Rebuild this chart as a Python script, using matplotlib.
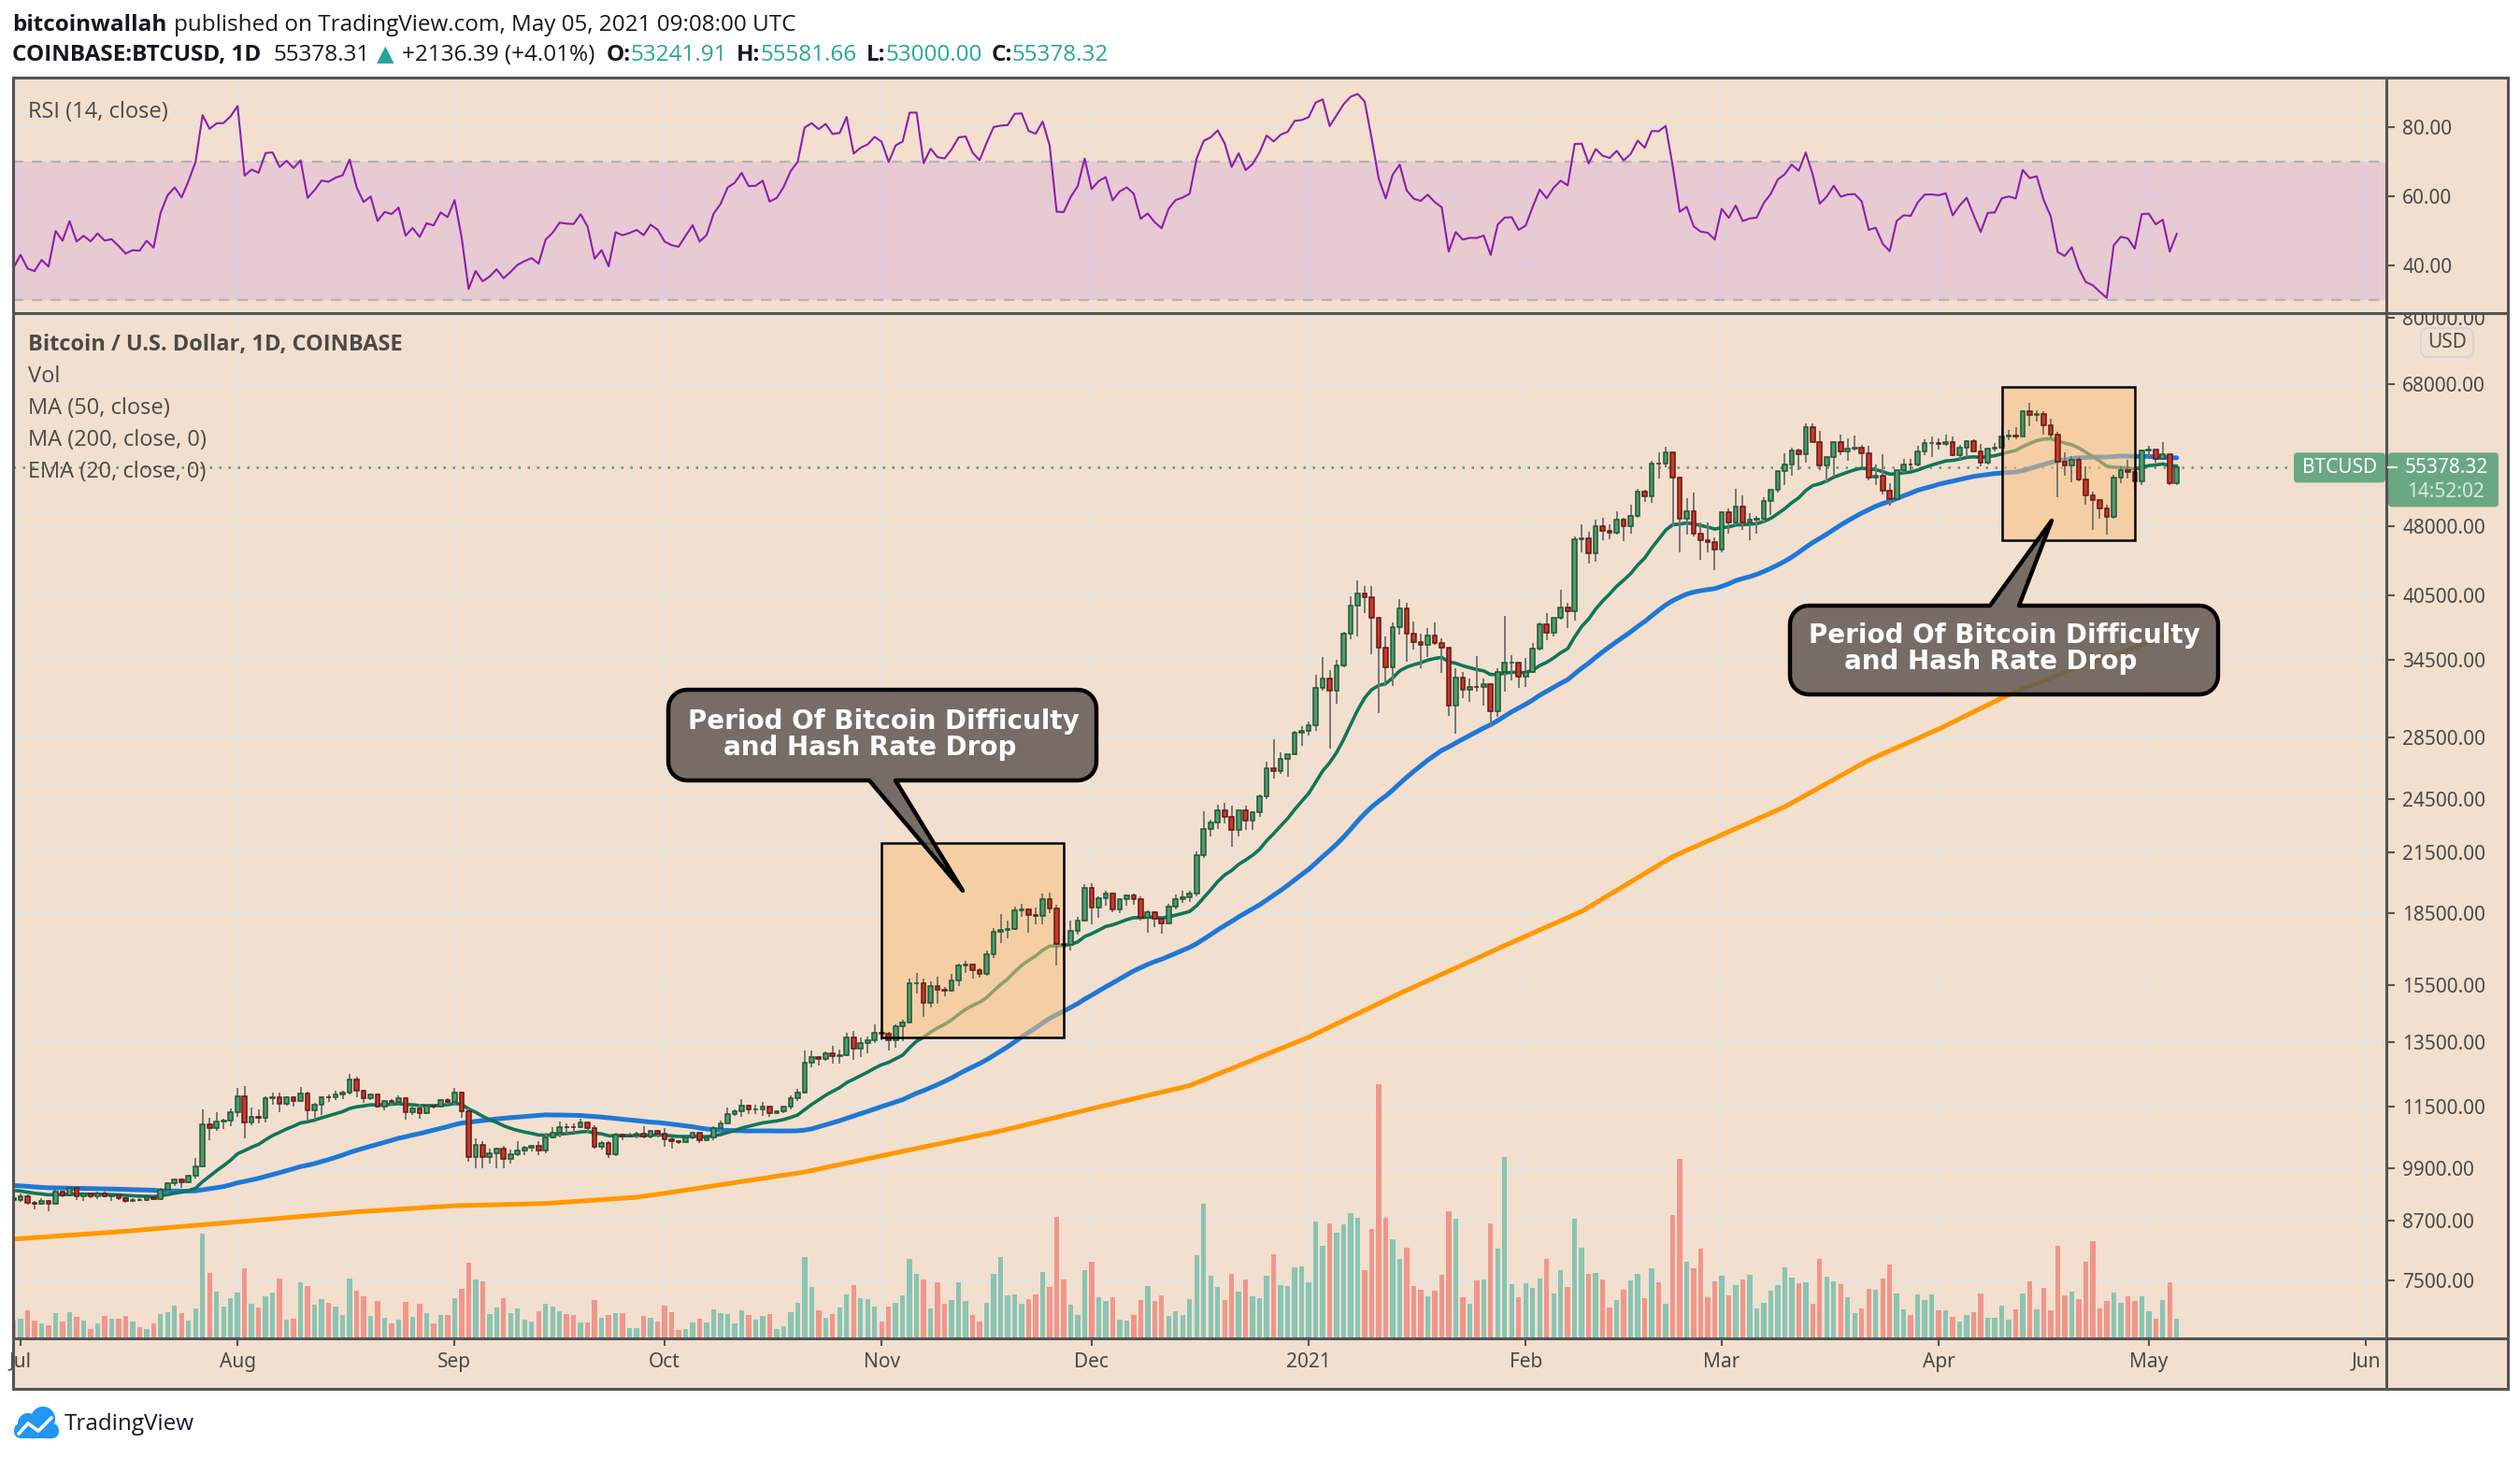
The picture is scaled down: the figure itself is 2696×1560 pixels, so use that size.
import numpy as np
import pandas as pd
import matplotlib
matplotlib.use("Agg")
import matplotlib.pyplot as plt
import matplotlib.dates as mdates
from matplotlib.patches import Rectangle, FancyBboxPatch, Polygon, Circle
from matplotlib.ticker import NullLocator
from matplotlib.transforms import Bbox

# ---------------- data (COINBASE:BTCUSD, daily) ----------------
# Jun 01 - Jun 29 2020 closes, only used to warm up the indicators
warmup_close = [10200, 9520, 9665, 9790, 9620, 9665, 9760, 9780, 9775, 9890,
                9270, 9465, 9470, 9330, 9430, 9520, 9455, 9380, 9300, 9355,
                9290, 9685, 9620, 9290, 9245, 9160, 9005, 9115, 9185]
first_open = 9185

# Jun 30 2020 -> May 05 2021
close = [
    9137,
    # Jul
    9232, 9086, 9058, 9135, 9069, 9341, 9253, 9428, 9237, 9288, 9236, 9302, 9240, 9250, 9196, 9132,
    9154, 9150, 9208, 9161, 9390, 9537, 9611, 9553, 9710, 9934, 11030, 10917, 11100, 11112, 11351,
    # Aug
    11810, 11072, 11230, 11190, 11750, 11770, 11595, 11765, 11680, 11880, 11400, 11570, 11790, 11775, 11865, 11915,
    12290, 11960, 11760, 11870, 11520, 11680, 11650, 11760, 11350, 11470, 11330, 11540, 11510, 11710, 11650,
    # Sep
    11925, 11390, 10170, 10480, 10170, 10250, 10370, 10130, 10230, 10340, 10395, 10440, 10330, 10680, 10790,
    10955, 10940, 10935, 11080, 10920, 10420, 10535, 10240, 10745, 10695, 10730, 10775, 10700, 10845, 10780,
    # Oct
    10620, 10570, 10550, 10670, 10790, 10600, 10670, 10925, 11055, 11300, 11375, 11545, 11425, 11430, 11505, 11325,
    11370, 11515, 11755, 11915, 12820, 12990, 12935, 13125, 13035, 13070, 13655, 13280, 13460, 13560, 13810,
    # Nov
    13760, 13550, 14030, 14160, 15590, 15590, 14840, 15480, 15330, 15310, 15700, 16290, 16335, 16080, 15960,
    16725, 17680, 17780, 17815, 18670, 18705, 18420, 18375, 19160, 18740, 17150, 17140, 17720, 18180, 19700,
    # Dec
    18770, 19220, 19450, 18700, 19150, 19360, 19170, 18330, 18550, 18250, 18040, 18800, 19170, 19280, 19440, 21350,
    22800, 23140, 23860, 23480, 22740, 23830, 23250, 23720, 24700, 26460, 26250, 27030, 27370, 28860, 28990,
    # Jan
    29410, 32200, 33000, 31990, 34050, 36850, 39480, 40620, 40240, 38240, 35550, 33930, 37390, 39150, 36830, 36030,
    35820, 36640, 36000, 35550, 30840, 33010, 32100, 32290, 32270, 32510, 30430, 33470, 34270, 34320, 33110,
    # Feb
    33540, 35510, 37660, 36930, 38290, 39260, 38900, 46400, 46490, 44850, 47990, 47410, 47230, 48690,
    47940, 49170, 52150, 51600, 55920, 55900, 57490, 54090, 48890, 49710, 47060, 46300, 46150, 45240,
    # Mar
    49590, 48440, 50370, 48380, 48760, 48880, 50970, 52390, 54880, 55860, 57810, 57230, 61190, 59000, 55630, 56900,
    58920, 57650, 58030, 58100, 57350, 54080, 54340, 52300, 51300, 55050, 55840, 55780, 57620, 58790, 58800,
    # Apr
    58730, 58980, 57090, 58210, 59120, 57600, 56000, 58080, 58120, 59770, 59990, 59840, 63590, 62970, 63230,
    61400, 60010, 56160, 55670, 56490, 53800, 51700, 51190, 50110, 49080, 54020, 55030, 54840, 53570, 57750,
    # May
    57830, 56630, 57200, 53241.91, 55378.32,
]

high = [
    9200,
    9290, 9270, 9125, 9190, 9145, 9375, 9365, 9450, 9445, 9320, 9310, 9345, 9345, 9275, 9270, 9200,
    9185, 9200, 9225, 9220, 9425, 9545, 9640, 9650, 9730, 10150, 11420, 11200, 11350, 11180, 11460,
    12050, 12120, 11480, 11420, 11800, 11910, 11920, 11810, 11815, 12070, 11950, 11620, 11800, 11850, 11975, 11980,
    12470, 12400, 12000, 11890, 11890, 11690, 11720, 11820, 11780, 11540, 11590, 11580, 11580, 11720, 11760,
    12050, 11950, 11470, 10650, 10580, 10380, 10410, 10440, 10350, 10580, 10460, 10480, 10580, 10790, 10950,
    11100, 11040, 11050, 11180, 11050, 10990, 10580, 10560, 10790, 10770, 10800, 10815, 10960, 10870, 10855,
    10930, 10670, 10600, 10700, 10800, 10800, 10700, 10960, 11110, 11490, 11440, 11730, 11560, 11550, 11630, 11540,
    11410, 11520, 11820, 12030, 13220, 13200, 13030, 13170, 13350, 13240, 13790, 13860, 13630, 13660, 14100,
    13900, 13830, 14080, 14250, 15760, 15980, 15780, 15660, 15850, 15460, 15950, 16360, 16480, 16340, 16170,
    16880, 17860, 18480, 18190, 18800, 18960, 18720, 18770, 19420, 19490, 18920, 17470, 18180, 18350, 19870,
    19920, 19310, 19560, 19500, 19170, 19410, 19420, 19290, 18640, 18600, 18280, 18950, 19400, 19570, 19570, 21560,
    23770, 23280, 24170, 24290, 24100, 23840, 24100, 23780, 24800, 26870, 28420, 27500, 27400, 28990, 29300,
    29690, 33300, 34800, 33650, 34500, 36950, 40400, 41950, 41380, 41400, 38300, 36600, 37850, 40100, 39750, 37900,
    36850, 37300, 37850, 36400, 35600, 33840, 33480, 32940, 34880, 32950, 32570, 33780, 38500, 34900, 34300,
    34700, 35990, 37850, 38700, 38310, 40980, 39720, 46750, 48200, 47330, 48690, 48950, 48160, 49700,
    49000, 50600, 52600, 52500, 56350, 57500, 58350, 57550, 54200, 51360, 52050, 48380, 48400, 46650,
    49800, 50150, 52600, 51780, 49470, 49200, 51450, 52400, 54880, 57400, 58100, 58080, 61750, 61700, 60600, 56930,
    58980, 60050, 59500, 59880, 58580, 58420, 55800, 57200, 53250, 55080, 56600, 56600, 58400, 59400, 59800,
    59450, 60000, 59800, 58500, 59250, 59400, 58650, 58200, 58870, 61250, 60700, 61200, 63780, 64900, 63800,
    63550, 62500, 60450, 57550, 57000, 56800, 55500, 52200, 51200, 50550, 54400, 55500, 56450, 55200, 57950,
    58480, 57900, 58990, 57220, 55581.66,
]

low = [
    9065,
    9100, 9040, 8940, 9050, 8900, 9050, 9215, 9235, 9150, 9120, 9180, 9170, 9200, 9120, 9150, 9080,
    9100, 9120, 9130, 9140, 9150, 9300, 9460, 9430, 9540, 9650, 9920, 10600, 10850, 10900, 10970,
    11220, 10650, 11000, 11050, 11080, 11560, 11350, 11530, 11500, 11650, 11150, 11140, 11270, 11640, 11690, 11720,
    11870, 11780, 11620, 11690, 11480, 11400, 11530, 11590, 11150, 11270, 11180, 11300, 11450, 11490, 11570,
    11560, 11200, 10050, 9890, 9880, 10000, 9890, 9900, 10010, 10200, 10210, 10300, 10220, 10270, 10650,
    10680, 10780, 10800, 10920, 10800, 10380, 10350, 10150, 10200, 10600, 10660, 10640, 10640, 10650, 10680,
    10430, 10370, 10500, 10520, 10620, 10530, 10570, 10600, 10830, 11050, 11240, 11230, 11290, 11290, 11250, 11220,
    11300, 11330, 11420, 11680, 11880, 12690, 12730, 12880, 12800, 12790, 13030, 12900, 12990, 13120, 13450,
    13550, 13220, 13310, 13530, 14160, 15200, 14360, 14700, 14810, 15100, 15270, 15480, 15970, 15770, 15790,
    15880, 16570, 17220, 17400, 17760, 18360, 17630, 18000, 18030, 18500, 16300, 16480, 16880, 17560, 18150,
    18000, 18320, 18880, 18580, 18500, 18860, 18900, 18200, 17650, 17900, 17600, 18020, 18700, 19000, 19050, 19290,
    21230, 22350, 22750, 23070, 21820, 22350, 22700, 22700, 23450, 24500, 25800, 26100, 25900, 27340, 27920,
    28650, 29020, 32000, 27730, 31000, 33900, 36280, 36550, 38700, 35000, 30300, 32400, 32400, 36750, 34400, 35400,
    33850, 34750, 35850, 33400, 30070, 28800, 31390, 31100, 31950, 30830, 29280, 30000, 31950, 32850, 32220,
    32300, 33420, 35350, 36200, 36600, 38100, 37370, 37990, 45000, 43720, 43950, 46300, 46400, 47000,
    46180, 47050, 48900, 50900, 50750, 53900, 55480, 48000, 45000, 47000, 46800, 44100, 45000, 43000,
    45000, 47100, 48100, 47480, 46300, 47100, 48300, 49300, 52040, 53000, 54300, 55100, 56100, 59000, 55100, 53300,
    54200, 57100, 56300, 57800, 55500, 53700, 53000, 51800, 50400, 51300, 54700, 55050, 55500, 57100, 56900,
    57900, 58450, 57000, 56500, 56800, 57600, 55500, 55800, 57650, 58000, 59200, 59400, 59900, 61300, 62000,
    60000, 59500, 51500, 54300, 53400, 53600, 50500, 47500, 48800, 47000, 48800, 53300, 53900, 52400, 53100,
    56950, 56000, 56500, 53000, 53000,
]

# daily volume, thousand BTC
volume = [
    4.8,
    5.2, 7.5, 4.8, 3.9, 3.5, 6.8, 4.6, 7.0, 5.8, 4.8, 2.5, 3.9, 6.0, 5.2, 5.2, 6.0,
    4.6, 3.1, 2.5, 3.9, 6.4, 7.0, 8.8, 6.8, 4.8, 8.1, 28.0, 17.5, 12.5, 8.5, 10.8,
    12.3, 18.8, 9.2, 8.3, 11.3, 12.3, 16.0, 5.0, 5.2, 15.0, 13.9, 8.9, 10.6, 9.6, 8.5, 6.3,
    16.0, 12.8, 11.3, 6.0, 10.0, 5.6, 3.9, 5.0, 9.8, 5.8, 9.2, 6.8, 3.9, 6.3, 6.3,
    10.8, 13.3, 20.3, 15.8, 15.2, 6.6, 8.3, 10.8, 6.8, 8.1, 5.0, 4.6, 7.3, 9.2, 8.5,
    7.3, 6.4, 6.2, 4.2, 4.3, 10.2, 5.6, 6.3, 6.7, 6.7, 2.8, 2.8, 6.0, 5.6, 4.6,
    8.8, 7.0, 2.3, 2.5, 4.3, 5.2, 4.3, 7.8, 6.8, 6.4, 3.9, 7.5, 6.2, 5.0, 6.0, 6.4,
    2.5, 3.3, 7.0, 9.5, 21.8, 13.8, 7.4, 5.6, 6.6, 8.3, 11.8, 14.2, 10.8, 10.6, 8.5,
    4.6, 8.5, 9.6, 11.4, 21.3, 17.1, 15.8, 8.1, 14.9, 9.3, 10.2, 15.0, 10.0, 6.3, 4.6,
    9.5, 17.1, 21.8, 11.4, 11.8, 9.3, 10.6, 11.8, 17.8, 13.8, 32.5, 15.8, 9.1, 6.3, 18.3,
    20.4, 11.0, 10.0, 11.0, 5.0, 4.8, 6.3, 10.3, 13.9, 10.0, 11.4, 6.0, 7.3, 6.3, 10.6, 22.3,
    35.8, 16.8, 13.8, 10.3, 17.3, 12.5, 15.8, 11.3, 10.8, 16.8, 22.5, 14.3, 14.0, 19.0, 19.3,
    15.0, 31.3, 24.8, 30.8, 28.3, 30.5, 33.5, 32.3, 18.3, 29.3, 67.9, 32.3, 26.5, 21.3, 24.3, 14.0,
    13.0, 11.3, 12.8, 17.0, 33.8, 32.0, 11.0, 9.3, 15.5, 15.8, 30.8, 24.0, 48.3, 14.5, 11.0,
    14.8, 13.5, 16.0, 21.3, 12.0, 18.3, 13.8, 32.0, 24.3, 17.3, 17.5, 15.8, 8.3, 10.3,
    13.0, 15.5, 17.3, 10.8, 18.8, 15.0, 9.3, 33.0, 48.0, 20.5, 18.8, 24.0, 11.0, 15.3,
    16.8, 11.5, 14.3, 15.8, 17.0, 8.0, 9.5, 12.8, 14.3, 19.0, 16.3, 14.8, 15.0, 9.3, 21.3, 16.5,
    15.3, 14.5, 11.0, 6.8, 8.0, 13.3, 13.0, 16.0, 19.8, 12.0, 7.8, 6.3, 11.8, 10.3, 11.8,
    7.5, 7.5, 5.8, 4.5, 6.3, 7.0, 12.0, 5.5, 5.5, 8.8, 5.0, 7.8, 12.0, 15.3, 7.8,
    13.5, 7.5, 24.8, 11.5, 12.5, 10.5, 20.5, 26.0, 8.0, 10.0, 12.3, 9.5, 11.3, 10.0, 11.3,
    7.3, 5.3, 10.3, 15.0, 5.3,
]

# MA (200, close)
ma200_dates = ["2020-06-30", "2020-07-15", "2020-08-01", "2020-08-18", "2020-09-01", "2020-09-14",
               "2020-09-27", "2020-10-01", "2020-10-21", "2020-11-01", "2020-11-18", "2020-12-01",
               "2020-12-15", "2021-01-01", "2021-01-14", "2021-01-29", "2021-02-09", "2021-02-22",
               "2021-03-10", "2021-03-22", "2021-04-01", "2021-04-11", "2021-04-20", "2021-04-30",
               "2021-05-05"]
ma200_vals = [8310, 8460, 8670, 8885, 9020, 9070, 9210, 9300, 9800, 10200, 10840, 11450,
              12120, 13650, 15200, 17100, 18600, 21280, 24050, 26980, 29120, 31690, 33690, 35800,
              37250]

price_ticks = [7500, 8700, 9900, 11500, 13500, 15500, 18500, 21500, 24500, 28500,
               34500, 40500, 48000, 68000, 80000]
rsi_ticks = [40, 60, 80]
month_labels = ["Jul", "Aug", "Sep", "Oct", "Nov", "Dec", "2021", "Feb", "Mar", "Apr", "May", "Jun"]

# highlighted periods: start, end, low, high
hl_start = ["2020-11-01", "2021-04-10"]
hl_end = ["2020-11-27", "2021-04-29"]
hl_low = [13650, 46330]
hl_high = [22000, 67530]
callout_text = ["Period Of Bitcoin Difficulty", "and Hash Rate Drop"]

# ---------------- derived series ----------------
n = len(close)
dates = pd.date_range("2020-06-30", periods=n, freq="D")
x = mdates.date2num(dates)
c_a = np.array(close, float)
o_a = np.r_[first_open, c_a[:-1]]
h_a = np.maximum(np.array(high, float), np.maximum(o_a, c_a))
l_a = np.minimum(np.array(low, float), np.minimum(o_a, c_a))
up = c_a >= o_a

s = pd.Series(warmup_close + close, dtype=float)
ema20 = s.ewm(span=20, adjust=False).mean().to_numpy()[-n:]
ma50 = s.rolling(50, min_periods=1).mean().to_numpy()[-n:]
dlt = s.diff().fillna(0)
gain = dlt.clip(lower=0).ewm(alpha=1 / 14, adjust=False).mean()
loss = (-dlt.clip(upper=0)).ewm(alpha=1 / 14, adjust=False).mean()
rsi = (100 - 100 / (1 + gain / loss)).to_numpy()[-n:]

# ---------------- style ----------------
W, H = 2696, 1560
L, R, SC, T, MID, BOT, FB = 14, 2553, 2683, 83, 335, 1432, 1486
BG = "#f2dfce"
GRID = "#e6e2e2"
FRAME = "#545454"
TXT = "#4a4a4a"
DARK = "#131722"
TEAL = "#26a69a"
UP_BODY, UP_EDGE = "#4f9b6d", "#1f5636"
DN_BODY, DN_EDGE = "#c9392b", "#641810"
WICK = "#777777"
VOL_UP, VOL_DN = "#8ac4b3", "#f0968b"
LAST = "#6aa883"
UI = ["Open Sans", "DejaVu Sans"]

plt.rcParams["font.family"] = ["Noto Sans", "DejaVu Sans"]

fig = plt.figure(figsize=(W / 100, H / 100), dpi=100)
fig.patch.set_facecolor("white")


def rect(l, t, r, b):
    return [l / W, 1 - b / H, (r - l) / W, (b - t) / H]


ax_bg = fig.add_axes([0, 0, 1, 1], zorder=0)
ax_bg.set_xlim(0, W)
ax_bg.set_ylim(H, 0)
ax_bg.axis("off")
ax_bg.add_patch(Rectangle((L, T), SC - L, FB - T, fc=BG, ec="none"))

ax_grid = fig.add_axes(rect(L, MID, R, BOT), zorder=1)
ax_vol = fig.add_axes(rect(L, MID, R, BOT), zorder=2, sharex=ax_grid)
ax_price = fig.add_axes(rect(L, MID, R, BOT), zorder=3, sharex=ax_grid)
ax_rsi = fig.add_axes(rect(L, T, R, MID), zorder=3, sharex=ax_grid)
ax_top = fig.add_axes([0, 0, 1, 1], zorder=10)
ax_top.set_xlim(0, W)
ax_top.set_ylim(H, 0)
ax_top.axis("off")

for a in (ax_grid, ax_vol, ax_price, ax_rsi, ax_top, ax_bg):
    a.patch.set_visible(False)
for a in (ax_grid, ax_vol, ax_price, ax_rsi):
    for sp in a.spines.values():
        sp.set_visible(False)

months = pd.date_range("2020-07-01", "2021-06-01", freq="MS")
ax_grid.set_xlim(mdates.date2num(pd.Timestamp("2020-07-01")) - 1.07,
                 mdates.date2num(pd.Timestamp("2021-06-01")) + 2.94)
ax_grid.set_xticks(mdates.date2num(months))
ax_grid.set_xticklabels(month_labels)

pmin, pmax = 6510, 80975
for a in (ax_grid, ax_price):
    a.set_yscale("log")
    a.set_ylim(pmin, pmax)
    a.set_yticks(price_ticks)
    a.yaxis.set_minor_locator(NullLocator())

# grid behind everything of the price pane
ax_grid.grid(True, color=GRID, lw=1.6)
ax_grid.tick_params(length=0, labelbottom=False, labelleft=False)
ax_vol.tick_params(length=0, labelbottom=False, labelleft=False)
ax_vol.set_yticks([])

# volume
ax_vol.bar(x, volume, width=0.72, color=[VOL_UP if u else VOL_DN for u in up], zorder=2)
ax_vol.set_ylim(0, max(volume) * 4.03)

# moving averages
ax_price.plot(pd.to_datetime(ma200_dates), ma200_vals, color="#ff9800", lw=3.6, zorder=2,
              solid_capstyle="round", solid_joinstyle="round")
ax_price.plot(x, ma50, color="#1e78d6", lw=3.6, zorder=2, solid_capstyle="round")
ax_price.plot(x, ema20, color="#0f765a", lw=2.6, zorder=2, solid_capstyle="round")
ax_price.axhline(c_a[-1], color="#4f9f74", lw=1.8, ls=(0, (1, 3)), zorder=1.5)

# highlighted periods
for d0, d1, p0, p1 in zip(hl_start, hl_end, hl_low, hl_high):
    x0 = mdates.date2num(pd.Timestamp(d0))
    x1 = mdates.date2num(pd.Timestamp(d1))
    ax_price.add_patch(Rectangle((x0, p0), x1 - x0, p1 - p0, fc="#f9c280", alpha=0.55, ec="none", zorder=3))
    ax_price.add_patch(Rectangle((x0, p0), x1 - x0, p1 - p0, fill=False, ec="black", lw=1.8, zorder=6))

# candles
ax_price.vlines(x, l_a, h_a, color=WICK, lw=1.4, zorder=4)
lo_b = np.minimum(o_a, c_a)
ax_price.bar(x, np.abs(c_a - o_a), bottom=lo_b, width=0.62,
             color=[UP_BODY if u else DN_BODY for u in up],
             edgecolor=[UP_EDGE if u else DN_EDGE for u in up], linewidth=1.1, zorder=5)

# price axis
ax_price.yaxis.tick_right()
ax_price.set_yticklabels([f"{t:.2f}" for t in price_ticks])
ax_price.tick_params(axis="y", direction="out", length=6.5, width=1.5, color=FRAME,
                     labelcolor=TXT, labelsize=15, pad=6)
ax_price.tick_params(axis="x", direction="out", length=5.5, width=1.5, color=FRAME,
                     labelcolor=TXT, labelsize=15, pad=5)
for i, lbl in enumerate(ax_price.get_xticklabels()):
    if month_labels[i] == "2021":
        lbl.set_fontweight("bold")
clip = Bbox.from_extents(R, H - BOT, SC, H - MID)
for tk in ax_price.yaxis.get_major_ticks():
    tk.label2.set_clip_box(clip)
    tk.label2.set_clip_on(True)

# RSI pane
ax_rsi.set_axisbelow(True)
ax_rsi.set_ylim(26.2, 94.3)
ax_rsi.set_yticks(rsi_ticks)
ax_rsi.yaxis.tick_right()
ax_rsi.set_yticklabels([f"{t:.2f}" for t in rsi_ticks])
ax_rsi.grid(True, color=GRID, lw=1.6)
ax_rsi.tick_params(axis="y", direction="out", length=6.5, width=1.5, color=FRAME,
                   labelcolor=TXT, labelsize=15, pad=6)
ax_rsi.tick_params(axis="x", length=0, labelbottom=False)
ax_rsi.axhspan(30, 70, color="#b353ef", alpha=0.15, lw=0, zorder=1)
for lvl in (30, 70):
    ax_rsi.axhline(lvl, color="#b8b2b6", lw=1.6, ls=(0, (5, 4)), zorder=1.5)
ax_rsi.plot(x, rsi, color="#8d1fac", lw=1.5, zorder=3)

# ---------------- overlay: frame, labels, callouts ----------------
fr = dict(color=FRAME, lw=2.2, solid_capstyle="butt")
ax_top.add_patch(Rectangle((L, T), SC - L, FB - T, fill=False, ec=FRAME, lw=2.2))
ax_top.plot([L, SC], [MID, MID], **fr)
ax_top.plot([L, SC], [BOT, BOT], **fr)
ax_top.plot([R, R], [T, FB], **fr)

renderer = fig.canvas.get_renderer()


def run(x0, y0, parts, size):
    for txt, col, wt, gap in parts:
        t = ax_top.text(x0, y0, txt, color=col, fontweight=wt, fontsize=size,
                        family=UI, va="baseline", ha="left")
        x0 += t.get_window_extent(renderer).width + gap


run(13, 33, [("bitcoinwallah", DARK, "bold", 8),
             ("published on TradingView.com, May 05, 2021 09:08:00 UTC", DARK, "normal", 0)], 17.5)
run(13, 65, [("COINBASE:BTCUSD, 1D", DARK, "bold", 13),
             ("55378.31", DARK, "normal", 7), ("\u25b2", TEAL, "normal", 9),
             ("+2136.39 (+4.01%)", DARK, "normal", 12),
             ("O:", DARK, "bold", 0), ("53241.91", TEAL, "normal", 10),
             ("H:", DARK, "bold", 0), ("55581.66", TEAL, "normal", 10),
             ("L:", DARK, "bold", 0), ("53000.00", TEAL, "normal", 10),
             ("C:", DARK, "bold", 0), ("55378.32", TEAL, "normal", 0)], 17.5)

ax_top.text(30, 120, "RSI (14, close)", color=TXT, fontsize=17, family=UI, va="center")
legend = ["Bitcoin / U.S. Dollar, 1D, COINBASE", "Vol", "MA (50, close)",
          "MA (200, close, 0)", "EMA (20, close, 0)"]
for i, (lab, yy) in enumerate(zip(legend, [369, 403, 437, 471, 505])):
    ax_top.text(30, yy, lab, color=TXT, fontsize=17, family=UI, va="center",
                fontweight="bold" if i == 0 else "normal")

# USD badge
ax_top.add_patch(FancyBboxPatch((2590, 351), 56, 31, boxstyle="round,pad=0,rounding_size=8",
                                fc=BG, ec="#d3d3e3", lw=1.5))
ax_top.text(2618, 367, "USD", color=TXT, fontsize=15, ha="center", va="center")

# last price labels
py = H - ax_price.transData.transform((x[-1], c_a[-1]))[1]
ax_top.add_patch(FancyBboxPatch((2454, py - 16), 98, 32, boxstyle="round,pad=0,rounding_size=4",
                                fc=LAST, ec="none"))
ax_top.text(2503, py, "BTCUSD", color="white", fontsize=15, ha="center", va="center")
ax_top.add_patch(FancyBboxPatch((2555, py - 16), 118, 58, boxstyle="round,pad=0,rounding_size=4",
                                fc=LAST, ec="none"))
ax_top.plot([2555, 2564], [py, py], color="white", lw=1.5)
ax_top.text(2617, py, f"{c_a[-1]:.2f}", color="white", fontsize=15, ha="center", va="center")
ax_top.text(2617, py + 26, "14:52:02", color="#d3ebd9", fontsize=15, ha="center", va="center")


# callouts (pixel layout): one outline = rounded box + pointer
def bubble(x0, y0, x1, y1, r, px0, px1, side, tip):
    def arc(cx, cy, a0, a1):
        t = np.radians(np.linspace(a0, a1, 10))
        return list(zip(cx + r * np.cos(t), cy + r * np.sin(t)))

    pts = [(x0 + r, y0)]
    if side == "top":
        pts += [(px0, y0), tip, (px1, y0)]
    pts += [(x1 - r, y0)] + arc(x1 - r, y0 + r, -90, 0)
    pts += [(x1, y1 - r)] + arc(x1 - r, y1 - r, 0, 90)
    if side == "bottom":
        pts += [(px1, y1), tip, (px0, y1)]
    pts += [(x0 + r, y1)] + arc(x0 + r, y1 - r, 90, 180)
    pts += [(x0, y0 + r)] + arc(x0 + r, y0 + r, 180, 270)
    return pts


CALLOUTS = [
    dict(box=(715, 738, 1173, 835), base=(930, 958), side="bottom", tip=(1030, 953),
         lines=[(945, 772), (931, 800)]),
    dict(box=(1915, 648, 2373, 743), base=(2129, 2160), side="top", tip=(2195, 557),
         lines=[(2144, 680), (2130, 708)]),
]
CO_FILL = (97 / 255, 89 / 255, 84 / 255, 0.85)
for co in CALLOUTS:
    bx0, by0, bx1, by1 = co["box"]
    pts = bubble(bx0, by0, bx1, by1, 20, co["base"][0], co["base"][1], co["side"], co["tip"])
    ax_top.add_patch(Polygon(pts, closed=True, fc=CO_FILL, ec="black", lw=3.2,
                             joinstyle="round", zorder=11))
    for (cx, cy), txt in zip(co["lines"], callout_text):
        ax_top.text(cx, cy, txt, color="white", fontsize=20, fontweight="bold", family="DejaVu Sans",
                    ha="center", va="center", zorder=14)

# TradingView logo
TV = "#2196f3"
ax_top.add_patch(FancyBboxPatch((15, 1523), 48, 16, boxstyle="round,pad=0,rounding_size=8", fc=TV, ec="none"))
ax_top.add_patch(Circle((30, 1523), 11, fc=TV, ec="none"))
ax_top.add_patch(Circle((46, 1518), 13, fc=TV, ec="none"))
ax_top.plot([20, 30, 41, 55], [1534, 1523, 1531, 1517], color="white", lw=2.6, solid_capstyle="round")
ax_top.text(69, 1524, "TradingView", color=DARK, fontsize=17.5, family=UI, va="center")

fig.savefig("out.png", dpi=100, facecolor="white")
